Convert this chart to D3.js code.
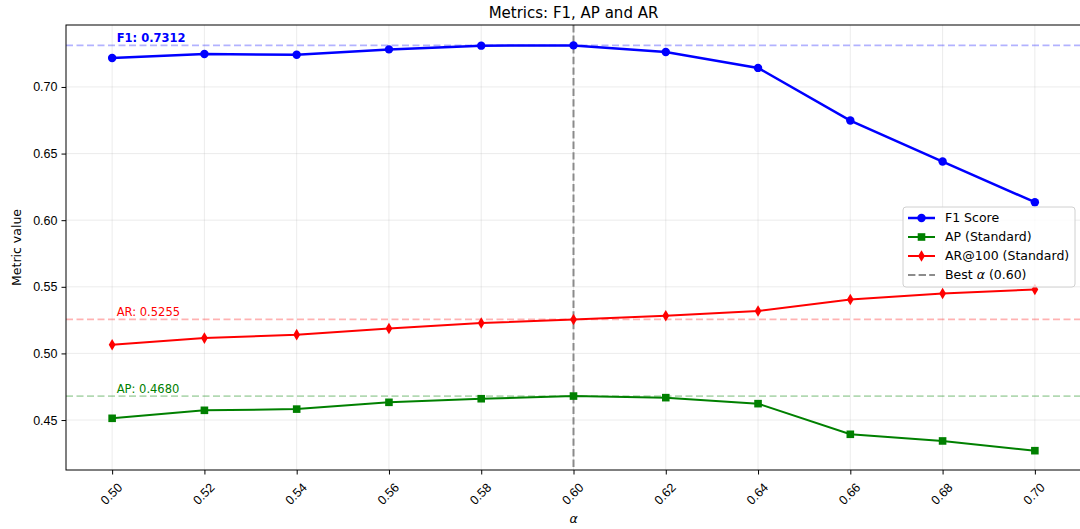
<!DOCTYPE html>
<html>
<head>
<meta charset="utf-8">
<script src="https://cdn.jsdelivr.net/npm/d3@7"></script>
<style>
  body { margin: 0; background: #fff; }
  svg { font-family: "DejaVu Sans", sans-serif; }
  .grid line { stroke: #b0b0b0; stroke-opacity: 0.3; stroke-width: 0.8; }
  .axis text { font-size: 12.5px; fill: #000; }
  .axis path, .axis line { stroke: #000; }
</style>
</head>
<body>
<svg id="chart" width="1080" height="529"></svg>
<script>
// data
const alphas = [0.50, 0.52, 0.54, 0.56, 0.58, 0.60, 0.62, 0.64, 0.66, 0.68, 0.70];
const f1 = [0.7218, 0.7248, 0.7241, 0.7282, 0.7310, 0.7312, 0.7263, 0.7143, 0.6748, 0.6440, 0.6135];
const ap = [0.4513, 0.4573, 0.4582, 0.4633, 0.4660, 0.4680, 0.4668, 0.4623, 0.4393, 0.4343, 0.4270];
const ar = [0.5065, 0.5115, 0.5141, 0.5187, 0.5228, 0.5255, 0.5283, 0.5318, 0.5405, 0.5450, 0.5480];
const yTicks = [0.45, 0.50, 0.55, 0.60, 0.65, 0.70];
const bestAlpha = 0.60;
const bestF1 = 0.7312, bestAP = 0.4680, bestAR = 0.5255;

const svg = d3.select("#chart");
const m = {left: 66, top: 25, right: 1081, bottom: 470};

let x = d3.scaleLinear().domain([0.49, 0.71]).range([m.left, m.right]);
let y = d3.scaleLinear().domain([0.4125, 0.7465]).range([m.bottom, m.top]);

// grid
let grid = svg.append("g").attr("class", "grid");
grid.selectAll(".gx").data(alphas).enter().append("line")
    .attr("x1", d => x(d)).attr("x2", d => x(d))
    .attr("y1", m.top).attr("y2", m.bottom);
grid.selectAll(".gy").data(yTicks).enter().append("line")
    .attr("x1", m.left).attr("x2", m.right)
    .attr("y1", d => y(d)).attr("y2", d => y(d));

// reference lines
const refs = [
    {v: bestF1, color: "blue"},
    {v: bestAR, color: "red"},
    {v: bestAP, color: "green"}
];
svg.selectAll(".ref").data(refs).enter().append("line")
    .attr("x1", m.left).attr("x2", m.right)
    .attr("y1", d => y(d.v)).attr("y2", d => y(d.v))
    .attr("stroke", d => d.color).attr("stroke-opacity", 0.3)
    .attr("stroke-width", 1.8).attr("stroke-dasharray", "7,3.5");

svg.append("line")
    .attr("x1", x(bestAlpha)).attr("x2", x(bestAlpha))
    .attr("y1", m.top).attr("y2", m.bottom)
    .attr("stroke", "gray").attr("stroke-opacity", 0.9)
    .attr("stroke-width", 2).attr("stroke-dasharray", "7.4,3.2");

// series
function drawSeries(vals, color, width, marker) {
    let pts = alphas.map((a, i) => [a, vals[i]]);
    svg.append("path")
        .datum(pts)
        .attr("fill", "none").attr("stroke", color).attr("stroke-width", width)
        .attr("d", d3.line().x(d => x(d[0])).y(d => y(d[1])));
    let g = svg.append("g").attr("fill", color);
    g.selectAll("path").data(pts).enter().append("path")
        .attr("transform", d => "translate(" + x(d[0]) + "," + y(d[1]) + ")")
        .attr("d", marker);
}
const circle = d3.symbol(d3.symbolCircle, 56)();
const square = "M-3.8,-3.8H3.8V3.8H-3.8Z";
const diamond = "M0,-5.8L3.4,0L0,5.8L-3.4,0Z";

drawSeries(ap, "green", 2, square);
drawSeries(ar, "red", 2, diamond);
drawSeries(f1, "blue", 2.5, circle);

// annotations
svg.append("text").attr("x", x(0.501)).attr("y", y(bestF1) - 3)
    .attr("font-size", "11.5px").attr("font-weight", "bold").attr("fill", "blue")
    .text("F1: " + bestF1.toFixed(4));
svg.append("text").attr("x", x(0.501)).attr("y", y(bestAR) - 3)
    .attr("font-size", "11.5px").attr("fill", "red")
    .text("AR: " + bestAR.toFixed(4));
svg.append("text").attr("x", x(0.501)).attr("y", y(bestAP) - 3)
    .attr("font-size", "11.5px").attr("fill", "green")
    .text("AP: " + bestAP.toFixed(4));

// axes
let xAxis = svg.append("g").attr("class", "axis")
    .attr("transform", "translate(0," + m.bottom + ")")
    .call(d3.axisBottom(x).tickValues(alphas).tickFormat(d3.format(".2f")).tickSize(4.5).tickSizeOuter(0));
xAxis.select(".domain").remove();
xAxis.selectAll("text")
    .attr("text-anchor", "middle")
    .attr("dy", null).attr("y", 0)
    .attr("transform", "translate(-1,24) rotate(-45)")
    .attr("dominant-baseline", "central");

let yAxis = svg.append("g").attr("class", "axis")
    .attr("transform", "translate(" + m.left + ",0)")
    .call(d3.axisLeft(y).tickValues(yTicks).tickFormat(d3.format(".2f")).tickSize(4.5).tickSizeOuter(0));
yAxis.select(".domain").remove();
yAxis.selectAll("text").attr("x", -8.5);

// spines
svg.append("rect")
    .attr("x", m.left).attr("y", m.top)
    .attr("width", m.right - m.left).attr("height", m.bottom - m.top)
    .attr("fill", "none").attr("stroke", "#000").attr("stroke-width", 1);

// labels
svg.append("text").attr("x", (m.left + m.right) / 2).attr("y", 18)
    .attr("text-anchor", "middle").attr("font-size", "15px")
    .text("Metrics: F1, AP and AR");
svg.append("text").attr("transform", "translate(21," + (m.top + m.bottom) / 2 + ") rotate(-90)")
    .attr("text-anchor", "middle").attr("font-size", "12.5px")
    .text("Metric value");
svg.append("text").attr("x", (m.left + m.right) / 2).attr("y", 523)
    .attr("text-anchor", "middle").attr("font-size", "12.5px").attr("font-style", "italic")
    .text("α");

// legend
const legendItems = [
    {label: "F1 Score", color: "blue", marker: circle, width: 2.5},
    {label: "AP (Standard)", color: "green", marker: square, width: 2},
    {label: "AR@100 (Standard)", color: "red", marker: diamond, width: 2},
    {label: "Best α (0.60)", color: "gray", marker: null, width: 2}
];
let lg = svg.append("g").attr("transform", "translate(903,207)");
lg.append("rect").attr("width", 172).attr("height", 80).attr("rx", 3)
    .attr("fill", "#fff").attr("fill-opacity", 0.8)
    .attr("stroke", "#d0d0d0").attr("stroke-width", 1);
let items = lg.selectAll(".item").data(legendItems).enter().append("g")
    .attr("transform", (d, i) => "translate(0," + (11 + i * 19) + ")");
items.append("line").attr("x1", 5).attr("x2", 32)
    .attr("stroke", d => d.color).attr("stroke-width", d => d.width)
    .attr("stroke-opacity", d => d.marker ? 1 : 0.9)
    .attr("stroke-dasharray", d => d.marker ? null : "7.4,3.2");
items.filter(d => d.marker).append("path")
    .attr("transform", "translate(18.5,0)")
    .attr("d", d => d.marker).attr("fill", d => d.color);
let lt = items.append("text").attr("x", 42).attr("dy", "0.35em").attr("font-size", "12.5px");
lt.each(function (d) {
    let t = d3.select(this);
    if (d.marker) {
        t.text(d.label);
    } else {
        t.append("tspan").text("Best ");
        t.append("tspan").attr("font-style", "italic").text("α");
        t.append("tspan").text(" (0.60)");
    }
});
</script>
</body>
</html>
